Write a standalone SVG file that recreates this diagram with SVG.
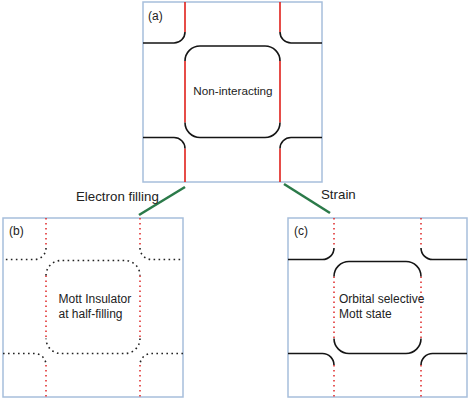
<svg xmlns="http://www.w3.org/2000/svg" width="471" height="402" viewBox="0 0 471 402">
<style>
.box{fill:#fff;stroke:#a7bedb;stroke-width:1.5}
.blk{fill:none;stroke:#151515;stroke-width:1.6}
.red{fill:none;stroke:#e0211c;stroke-width:1.6}
.dk{fill:none;stroke:#222;stroke-width:1.6;stroke-dasharray:1.6 3.4}
.dr{fill:none;stroke:#e03333;stroke-width:1.6;stroke-dasharray:1.6 3.4}
.conn{fill:none;stroke:#2b7a49;stroke-width:2.6}
text{font-family:"Liberation Sans",Arial,sans-serif;fill:#222}
.t{font-size:12px}
.c{font-size:13.3px}
</style>
<rect width="471" height="402" fill="#fff"/>
<g id="connectors">
<line class="conn" x1="185" y1="187" x2="139" y2="215"/>
<line class="conn" x1="284" y1="184" x2="330" y2="213"/>
<text class="c" x="76" y="200.5">Electron filling</text>
<text class="c" x="321" y="198.5">Strain</text>
</g>
<g id="panel-a">
<rect class="box" x="143" y="2" width="179" height="180"/>
<path class="red" d="M185,2V32M280,2V32M185,148.5V182M280,148.5V182M185,61V122.5M280,61V122.5"/>
<path class="blk" d="M185,32A11,11 0 0 1 174,43H143M280,32A11,11 0 0 0 291,43H322M143,137.5H174A11,11 0 0 1 185,148.5M322,137.5H291A11,11 0 0 0 280,148.5"/>
<path class="blk" d="M185,61A15,15 0 0 1 200,46H265A15,15 0 0 1 280,61M280,122.5A15,15 0 0 1 265,137.5H200A15,15 0 0 1 185,122.5"/>
<text class="t" x="148" y="20">(a)</text>
<text x="233" y="95" font-size="11.7" text-anchor="middle">Non-interacting</text>
</g>
<g id="panel-b">
<rect class="box" x="3" y="218" width="180" height="179"/>
<path class="dr" d="M46,218V248M140,218V248M46,365V397M140,365V397M46,275.5V338.5M140,275.5V338.5"/>
<path class="dk" d="M46,248A11.5,11.5 0 0 1 34.5,259.5H3M140,248A11.5,11.5 0 0 0 151.5,259.5H183M3,353.5H34.5A11.5,11.5 0 0 1 46,365M183,353.5H151.5A11.5,11.5 0 0 0 140,365"/>
<path class="dk" d="M46,275.5A15,15 0 0 1 61,260.5H125A15,15 0 0 1 140,275.5M140,338.5A15,15 0 0 1 125,353.5H61A15,15 0 0 1 46,338.5"/>
<text class="t" x="9" y="235">(b)</text>
<text class="t" x="58.5" y="303">Mott Insulator</text>
<text class="t" x="58.5" y="318">at half-filling</text>
</g>
<g id="panel-c">
<rect class="box" x="288" y="218" width="179" height="179"/>
<path class="dr" d="M334,218V248M421,218V248M334,365V397M421,365V397M334,276.5V338.5M421,276.5V338.5"/>
<path class="blk" d="M334,248A11.5,11.5 0 0 1 322.5,259.5H288M421,248A11.5,11.5 0 0 0 432.5,259.5H467M288,353.5H322.5A11.5,11.5 0 0 1 334,365M467,353.5H432.5A11.5,11.5 0 0 0 421,365"/>
<path class="blk" d="M334,276.5A15,15 0 0 1 349,261.5H406A15,15 0 0 1 421,276.5M421,338.5A15,15 0 0 1 406,353.5H349A15,15 0 0 1 334,338.5"/>
<text class="t" x="294" y="235">(c)</text>
<text class="t" x="339" y="302.5">Orbital selective</text>
<text class="t" x="339" y="317.5">Mott state</text>
</g>
</svg>
